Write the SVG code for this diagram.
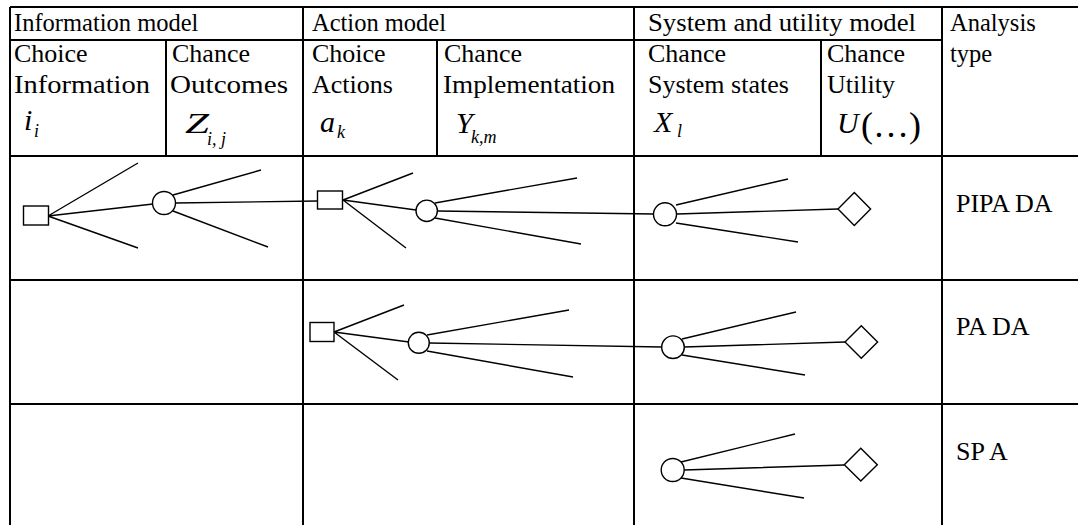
<svg xmlns="http://www.w3.org/2000/svg" width="1078" height="525" viewBox="0 0 1078 525">
<style>
.grid{stroke:#000;stroke-width:2;fill:none}
.t{font-family:"Liberation Serif","Times New Roman",serif;font-size:26px;fill:#000}
.h{font-family:"Liberation Serif","Times New Roman",serif;font-size:24.5px;fill:#000}
.m{font-family:"Liberation Serif","Times New Roman",serif;font-style:italic;font-size:30px;fill:#000}
.s{font-family:"Liberation Serif","Times New Roman",serif;font-style:italic;font-size:18px;fill:#000}
.p{font-family:"Liberation Serif","Times New Roman",serif;font-size:36px;fill:#000}
.edge{stroke:#000;stroke-width:1.4;fill:none}
.node{stroke:#000;stroke-width:1.4;fill:#fff}
</style>
<rect width="1078" height="525" fill="#fff"/>
<g id="grid">
<path class="grid" d="M10 7H1078M10 40H942M10 156H1078M10 280H1078M10 404H1078"/>
<path class="grid" d="M10 7V525M166 40V156M303 7V525M437 40V156M634 7V525M821 40V156M942 7V525"/>
</g>
<g id="header">
<text class="h" x="14" y="31">Information model</text>
<text class="h" x="312" y="31">Action model</text>
<text class="h" x="648" y="31" textLength="268" lengthAdjust="spacingAndGlyphs">System and utility model</text>
<text class="h" x="950" y="31">Analysis</text>
<text class="h" x="950" y="62">type</text>
<text class="t" x="14" y="62">Choice</text>
<text class="t" x="14" y="93" textLength="136" lengthAdjust="spacingAndGlyphs">Information</text>
<text class="t" x="172" y="62">Chance</text>
<text class="t" x="170" y="93" textLength="118" lengthAdjust="spacingAndGlyphs">Outcomes</text>
<text class="t" x="312" y="62">Choice</text>
<text class="t" x="312" y="93">Actions</text>
<text class="t" x="444" y="62">Chance</text>
<text class="t" x="443" y="93" textLength="172" lengthAdjust="spacingAndGlyphs">Implementation</text>
<text class="t" x="648" y="62">Chance</text>
<text class="t" x="648" y="93">System states</text>
<text class="t" x="827" y="62">Chance</text>
<text class="t" x="827" y="93">Utility</text>
<text class="m" x="24" y="130">i</text><text class="s" x="34" y="137">i</text>
<text class="m" x="185" y="133" textLength="24" lengthAdjust="spacingAndGlyphs">Z</text><text class="s" x="207" y="145">i, j</text>
<text class="m" x="320" y="132">a</text><text class="s" x="337" y="138">k</text>
<text class="m" x="456" y="133">Y</text><text class="s" x="471" y="143">k,m</text>
<text class="m" x="654" y="132">X</text><text class="s" x="677" y="137">l</text>
<text class="m" x="837" y="133">U</text><text class="p" x="861" y="137">(…)</text>
</g>
<g id="connectors">
<path class="edge" d="M48 216L138 163M48 216L153 204M48 216L138 248"/>
<path class="edge" d="M173 195L261 170M175 203L318 201M173 211L268 247"/>
<path class="edge" d="M343 200L413 173M343 200L416 210M343 200L406 248"/>
<path class="edge" d="M435 203L577 178M437 211L654 214M435 218L581 244"/>
<path class="edge" d="M676 205L788 179M677 214L838 209M676 223L798 242"/>
<path class="edge" d="M334 332L404 305M334 332L409 342M334 332L398 380"/>
<path class="edge" d="M427 335L569 310M429 343L662 347M427 351L573 377"/>
<path class="edge" d="M682 339L796 312M684 347L845 342M682 355L805 375"/>
<path class="edge" d="M681 462L795 434M684 470L844 465M681 478L804 498"/>
</g>
<g id="n1-info-decision"><rect class="node" x="23.5" y="206" width="25" height="19"/></g>
<g id="n1-outcome-chance"><circle class="node" cx="164" cy="203" r="11.5"/></g>
<g id="n1-action-decision"><rect class="node" x="317.5" y="191" width="25" height="18"/></g>
<g id="n1-impl-chance"><circle class="node" cx="426.7" cy="210.8" r="10.7"/></g>
<g id="n1-state-chance"><circle class="node" cx="665" cy="214.3" r="11.5"/></g>
<g id="n1-utility"><polygon class="node" points="838,209 854.3,192.5 870.6,209 854.3,225.5"/></g>
<g id="label-pipa"><text class="t" x="956" y="212">PIPA DA</text></g>
<g id="n2-action-decision"><rect class="node" x="310" y="322.5" width="24" height="19"/></g>
<g id="n2-impl-chance"><circle class="node" cx="418.8" cy="342.8" r="10.5"/></g>
<g id="n2-state-chance"><circle class="node" cx="673" cy="347.2" r="11.3"/></g>
<g id="n2-utility"><polygon class="node" points="845,342 861.3,325.7 877.6,342 861.3,358.3"/></g>
<g id="label-pa"><text class="t" x="956" y="335">PA DA</text></g>
<g id="n3-state-chance"><circle class="node" cx="672.7" cy="470" r="11.5"/></g>
<g id="n3-utility"><polygon class="node" points="844.3,464.7 860.8,448.3 877.3,464.7 860.8,481"/></g>
<g id="label-spa"><text class="t" x="956" y="460">SP A</text></g>
</svg>
